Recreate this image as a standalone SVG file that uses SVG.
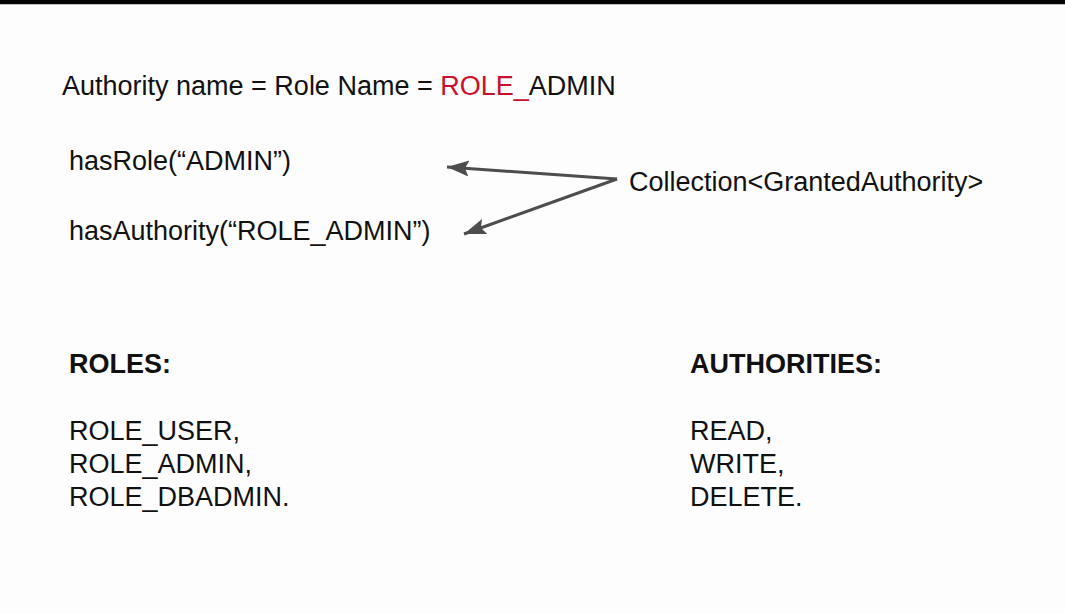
<svg xmlns="http://www.w3.org/2000/svg" width="1065" height="614" viewBox="0 0 1065 614">
  <defs>
    <style>
      .t { font-family: "Liberation Sans", Arial, sans-serif; font-size: 27px; fill: #111; }
      .b { font-weight: bold; }
      .red { fill: #c8102e; }
      .conn { stroke: #4d4d4d; stroke-width: 3; fill: none; }
    </style>
    <marker id="ah" markerUnits="userSpaceOnUse" markerWidth="24" markerHeight="18" refX="22" refY="8" orient="auto">
      <path d="M0,0 L22,8 L0,16 L4,8 Z" fill="#4d4d4d"/>
    </marker>
  </defs>
  <rect x="0" y="0" width="1065" height="614" fill="#fdfdfd"/>
  <rect x="0" y="0" width="1065" height="4" fill="#050505"/>
  <rect x="0" y="4" width="1065" height="1" fill="#bdbdbd"/>

  <g id="title">
    <text class="t" x="62" y="95">Authority name = Role Name = <tspan class="red">ROLE_</tspan>ADMIN</text>
  </g>
  <g id="hasRole">
    <text class="t" x="69" y="170">hasRole(“ADMIN”)</text>
  </g>
  <g id="hasAuthority">
    <text class="t" x="69" y="240">hasAuthority(“ROLE_ADMIN”)</text>
  </g>
  <g id="collection">
    <text class="t" x="629" y="191">Collection&lt;GrantedAuthority&gt;</text>
  </g>
  <g id="roles">
    <text class="t b" x="69" y="373">ROLES:</text>
    <text class="t" x="69" y="440">ROLE_USER,</text>
    <text class="t" x="69" y="473">ROLE_ADMIN,</text>
    <text class="t" x="69" y="506">ROLE_DBADMIN.</text>
  </g>
  <g id="authorities">
    <text class="t b" x="690" y="373">AUTHORITIES:</text>
    <text class="t" x="690" y="440">READ,</text>
    <text class="t" x="690" y="473">WRITE,</text>
    <text class="t" x="690" y="506">DELETE.</text>
  </g>
  <g id="connectors">
    <line class="conn" x1="617" y1="179" x2="447" y2="167" marker-end="url(#ah)"/>
    <line class="conn" x1="617" y1="179" x2="464" y2="234" marker-end="url(#ah)"/>
  </g>
</svg>
